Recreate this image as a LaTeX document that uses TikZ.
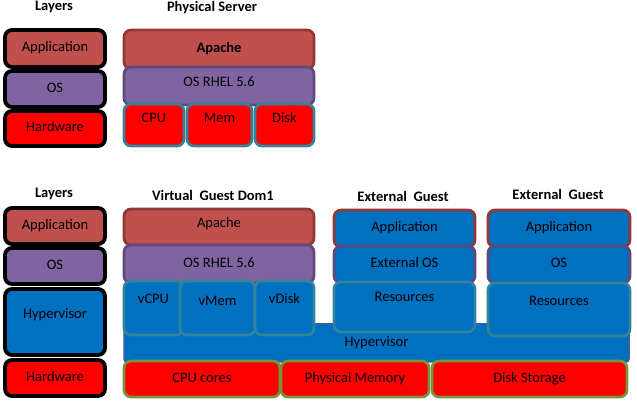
\documentclass[tikz,border=0pt]{standalone}
\usepackage{fontspec}
\setmainfont{Carlito}
\usetikzlibrary{positioning}
\definecolor{appred}{HTML}{C0504D}
\definecolor{appedge}{HTML}{953735}
\definecolor{ospurple}{HTML}{8064A2}
\definecolor{osedge}{HTML}{5F497A}
\definecolor{hwred}{HTML}{FF0000}
\definecolor{resedge}{HTML}{31849B}
\definecolor{hvblue}{HTML}{0070C0}
\definecolor{hvedge}{HTML}{3A5F9E}
\definecolor{hwedge}{HTML}{77933C}

\begin{document}
\begin{tikzpicture} [%
    x = 1pt, y = -1pt,
    every node/.style = {%
      font = \fontsize{14.5}{17}\selectfont,
      inner sep = 0pt,
      text height = 10pt,
      text depth = 3pt },
    heading/.style = {font = \fontsize{14.5}{17}\selectfont\bfseries},
    box/.style 2 args = {%
      anchor = north west,
      outer sep = 0pt,
      rounded corners = 7pt,
      line width = 2.7pt,
      minimum width = #1,
      minimum height = #2 },
    layer/.style = {draw = black, line width = 3.8pt},
    app/.style = {fill = appred, draw = appedge},
    os/.style = {fill = ospurple, draw = osedge},
    hw/.style = {fill = hwred, draw = resedge},
    res/.style = {fill = hvblue, draw = resedge},
    hwg/.style = {fill = hwred, draw = hwedge},
    lift/.style = {yshift = #1}
  ]

  \useasboundingbox (0,0) rectangle (637,411);

  % physical server
  \node[heading] (layersA) at (54,7.5) {Layers};
  \node[heading] (physical) at (212,8) {Physical Server};

  \node[box={100pt}{37pt}, app, layer] (appA) at (5,30) {Application};
  \node[box={100pt}{36pt}, os, layer] (osA) at (5,71) {OS};
  \node[box={100pt}{35pt}, fill=hwred, layer] (hwA) at (5,111) {Hardware};

  \node[box={190pt}{39pt}, app] (apache) at (124,30) {\bfseries Apache};
  \node[box={190pt}{38pt}, os, label={[lift=3pt]center:OS RHEL 5.6}] (rhel) at (124,67) {};
  \node[box={60pt}{42pt}, hw, label={[lift=6pt]center:CPU}] (cpu) at (124,104) {};
  \node[box={65pt}{42pt}, hw, label={[lift=6pt]center:Mem}] (mem) at (187,104) {};
  \node[box={59pt}{42pt}, hw, label={[lift=6pt]center:Disk}] (disk) at (255,104) {};

  % virtualized
  \node[heading] (layersB) at (54,194) {Layers};
  \node[heading] (dom1) at (213,197.5) {Virtual~ Guest Dom1};
  \node[heading] (extA) at (403,198) {External~ Guest};
  \node[heading] (extB) at (558,196.5) {External~ Guest};

  \node[box={100pt}{36pt}, app, layer] (appB) at (5,208) {Application};
  \node[box={100pt}{36pt}, os, layer] (osB) at (5,248) {OS};
  \node[box={100pt}{66pt}, fill=hvblue, layer, label={[lift=7pt]center:Hypervisor}] (hvB) at (5,289) {};
  \node[box={100pt}{36pt}, fill=hwred, layer] (hwB) at (5,360) {Hardware};

  \node[box={505pt}{38pt}, fill=hvblue, draw=hvedge, line width=1.5pt, rounded corners=3pt] (hyper) at (124,324) {Hypervisor};

  \node[box={190pt}{36pt}, app, label={[lift=3pt]center:Apache}] (apacheB) at (124,209) {};
  \node[box={190pt}{38pt}, os] (rhelB) at (124,245) {OS RHEL 5.6};
  \node[box={59pt}{54pt}, res, label={[lift=8pt]center:vCPU}] (vcpu) at (124,281) {};
  \node[box={75pt}{54pt}, res, label={[lift=6pt]center:vMem}] (vmem) at (180,281) {};
  \node[box={59pt}{54pt}, res, label={[lift=8pt]center:vDisk}] (vdisk) at (255,281) {};

  \node[box={141pt}{37pt}, app, fill=hvblue] (extAppA) at (334,210) {Application};
  \node[box={141pt}{37pt}, os, fill=hvblue] (extOsA) at (334,246) {External OS};
  \node[box={141pt}{50pt}, res, label={[lift=9pt]center:Resources}] (resA) at (334,282) {};

  \node[box={142pt}{37pt}, app, fill=hvblue] (extAppB) at (488,210) {Application};
  \node[box={142pt}{37pt}, os, fill=hvblue] (extOsB) at (488,246) {OS};
  \node[box={142pt}{53pt}, res, label={[lift=7.5pt]center:Resources}] (resB) at (488,283) {};

  \node[box={156pt}{36pt}, hwg] (cores) at (124,361) {CPU cores};
  \node[box={148pt}{36pt}, hwg] (physmem) at (281,361) {Physical Memory};
  \node[box={195pt}{36pt}, hwg] (storage) at (432,361) {Disk Storage};

\end{tikzpicture}
\end{document}
